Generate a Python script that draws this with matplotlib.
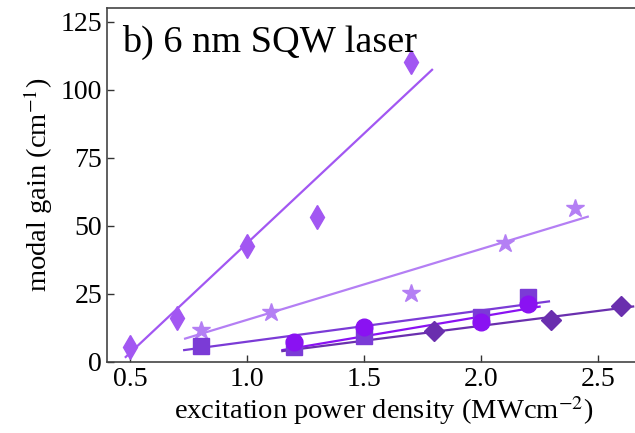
import numpy as np
import matplotlib.pyplot as plt

plt.rcParams['font.family'] = ['Liberation Serif', 'DejaVu Serif']
plt.rcParams['mathtext.fontset'] = 'stix'

# measured points (power density in MW/cm^2, modal gain in 1/cm)
x_thin = [0.5, 0.7, 1.0, 1.3, 1.7]
g_thin = [5.5, 16, 42.6, 53.2, 110]
x_star = [0.8, 1.1, 1.7, 2.1, 2.4]
g_star = [11.7, 18.4, 25.2, 43.6, 56.5]
x_sq = [0.8, 1.2, 1.5, 2.0, 2.2]
g_sq = [6.0, 5.5, 9.5, 16.4, 24.0]
x_circ = [1.2, 1.5, 2.0, 2.2]
g_circ = [7.5, 13.0, 14.8, 21.3]
x_dia = [1.8, 2.3, 2.6]
g_dia = [11.5, 15.5, 20.5]

# linear fits: slope, intercept, x range
fit_slope = [80.5, 26.0, 11.46, 14.5, 10.92]
fit_icpt = [-36.8, -10.5, -4.0, -12.3, -8.56]
fit_lo = [0.48, 0.734, 0.73, 1.15, 1.15]
fit_hi = [1.79, 2.456, 2.29, 2.25, 2.65]

colors = ['#a257f2', '#b47ff4', '#7b3bd6', '#8a12f2', '#6a2fae']
markers = ['d', '*', 's', 'o', 'D']
sizes = [12.5, 13.5, 11, 12, 10.5]
xs = [x_thin, x_star, x_sq, x_circ, x_dia]
gs = [g_thin, g_star, g_sq, g_circ, g_dia]

fig = plt.figure(figsize=(6.35, 4.33), dpi=100)
ax = fig.add_axes([0.1685, 0.164, 0.847, 0.8176])

for i in range(5):
    xx = np.linspace(fit_lo[i], fit_hi[i], 2)
    ax.plot(xx, fit_slope[i] * xx + fit_icpt[i], color=colors[i], lw=1.6, zorder=2)
for i in range(5):
    ax.plot(xs[i], gs[i], ls='none', marker=markers[i], ms=sizes[i],
            color=colors[i], mec=colors[i], zorder=3)

ax.set_xlim(0.4, 2.7)
ax.set_ylim(0, 130)
ax.set_xticks([0.5, 1.0, 1.5, 2.0, 2.5])
ax.set_yticks([0, 25, 50, 75, 100, 125])
ax.tick_params(direction='in', labelsize=20, length=5, width=1, colors='#333333',
               labelcolor='black')
for s in ax.spines.values():
    s.set_color('#444444')
    s.set_linewidth(1.2)

ax.set_xlabel('excitation power density (MWcm$^{-2}$)', fontsize=20.5)
ax.xaxis.set_label_coords(0.515, -0.09)
ax.set_ylabel('modal gain (cm$^{-1}$)', fontsize=20.5)
ax.text(0.028, 0.952, 'b) 6 nm SQW laser', transform=ax.transAxes,
        fontsize=27.5, va='top', ha='left')

fig.savefig('out.png', dpi=100)
